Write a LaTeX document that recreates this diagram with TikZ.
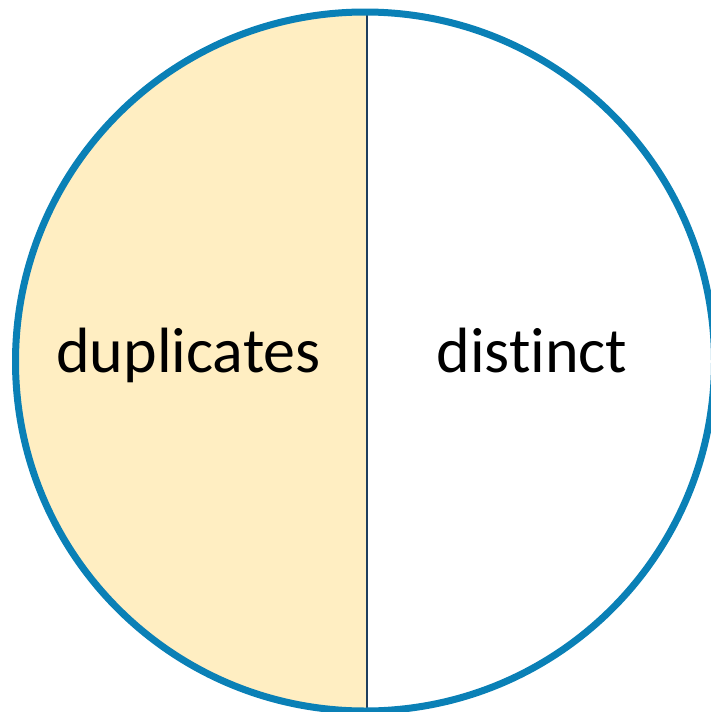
\documentclass[tikz,border=0pt]{standalone}
\usepackage{fontspec}
\setmainfont[Ligatures=NoCommon]{Carlito}
\definecolor{ringblue}{HTML}{0A80B6}
\definecolor{halffill}{HTML}{FFEEC2}
\definecolor{divider}{HTML}{1F3E5E}
\tikzset{lbl/.style={font=\fontsize{64}{76}\selectfont, text=black, inner sep=0pt, anchor=base}}
\begin{document}
\begin{tikzpicture}[x=1pt,y=-1pt]
\useasboundingbox (0,0) rectangle (710,712);
\coordinate (c) at (365,361.5);
\begin{scope}
\clip (0,0) rectangle (367,720);
\fill[halffill] (c) circle[radius=349.5];
\end{scope}
\draw[divider, line width=1.8pt] (367,12) -- (367,711);
\draw[ringblue, line width=7pt] (c) circle[radius=349.5];
\node[lbl] (dup) at (188.5,372) {duplicates};
\node[lbl] (dis) at (532,372) {distinct};
\end{tikzpicture}
\end{document}
